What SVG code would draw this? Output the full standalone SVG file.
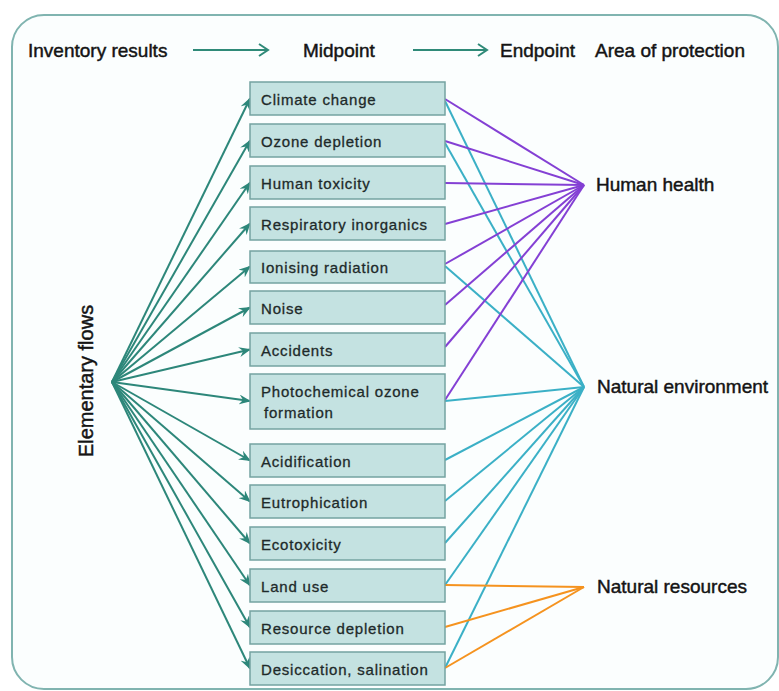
<svg xmlns="http://www.w3.org/2000/svg" width="779" height="691" viewBox="0 0 779 691">
<defs>
<style>
.hdr{font-family:"Liberation Sans",Arial,sans-serif;font-size:19px;fill:#141414;stroke:#141414;stroke-width:0.45px}
.lbl{font-family:"Liberation Sans",Arial,sans-serif;font-size:15px;letter-spacing:0.8px;fill:#1e2a2a;stroke:#1e2a2a;stroke-width:0.3px}
.box{fill:#c4e2e1;stroke:#74a3a1;stroke-width:1.5}
.fan{stroke:#2d877a;stroke-width:2;fill:none;marker-end:url(#ah)}
.pur{stroke:#8440d4;stroke-width:2;fill:none}
.cyn{stroke:#3bb0c6;stroke-width:2;fill:none}
.org{stroke:#f5931f;stroke-width:2;fill:none}
.harr{stroke:#2f8a78;stroke-width:2;fill:none}
</style>
<marker id="ah" viewBox="0 0 12 10" refX="11" refY="5" markerWidth="12" markerHeight="10" markerUnits="userSpaceOnUse" orient="auto">
<path d="M0,0 L12,5 L0,10 L4,5 z" fill="#2d877a"/>
</marker>
</defs>
<rect x="0" y="0" width="779" height="691" fill="#ffffff"/>
<rect id="frame" x="12" y="15" width="766" height="674" rx="32" ry="32" fill="#fbfefe" stroke="#80b4b0" stroke-width="2"/>

<g id="header">
<text class="hdr" x="28" y="57">Inventory results</text>
<text class="hdr" x="303" y="57">Midpoint</text>
<text class="hdr" x="500" y="57">Endpoint</text>
<text class="hdr" x="595" y="57">Area of protection</text>
<path class="harr" d="M193,50 H268 M259,44 L268,50 L259,56"/>
<path class="harr" d="M413,50 H487 M478,44 L487,50 L478,56"/>
</g>

<g id="elementary-flows">
<text class="hdr" transform="translate(93,381) rotate(-90)" text-anchor="middle" style="font-size:20px">Elementary flows</text>
</g>

<g id="connectors">
<g id="fan">
<line class="fan" x1="112" y1="382" x2="250" y2="98.5"/>
<line class="fan" x1="112" y1="382" x2="250" y2="140.5"/>
<line class="fan" x1="112" y1="382" x2="250" y2="182.5"/>
<line class="fan" x1="112" y1="382" x2="250" y2="223.5"/>
<line class="fan" x1="112" y1="382" x2="250" y2="266.5"/>
<line class="fan" x1="112" y1="382" x2="250" y2="307.5"/>
<line class="fan" x1="112" y1="382" x2="250" y2="349.5"/>
<line class="fan" x1="112" y1="382" x2="250" y2="401"/>
<line class="fan" x1="112" y1="382" x2="250" y2="460.5"/>
<line class="fan" x1="112" y1="382" x2="250" y2="501.5"/>
<line class="fan" x1="112" y1="382" x2="250" y2="543.5"/>
<line class="fan" x1="112" y1="382" x2="250" y2="585.5"/>
<line class="fan" x1="112" y1="382" x2="250" y2="627.5"/>
<line class="fan" x1="112" y1="382" x2="250" y2="668.5"/>
</g>
<g id="to-natural-environment">
<line class="cyn" x1="445" y1="101" x2="584" y2="387"/>
<line class="cyn" x1="445" y1="143" x2="584" y2="387"/>
<line class="cyn" x1="445" y1="266" x2="584" y2="387"/>
<line class="cyn" x1="445" y1="401" x2="584" y2="387"/>
<line class="cyn" x1="445" y1="460" x2="584" y2="387"/>
<line class="cyn" x1="445" y1="501" x2="584" y2="387"/>
<line class="cyn" x1="445" y1="543" x2="584" y2="387"/>
<line class="cyn" x1="445" y1="585" x2="584" y2="387"/>
<line class="cyn" x1="445" y1="668" x2="584" y2="387"/>
</g>
<g id="to-human-health">
<line class="pur" x1="445" y1="99" x2="584" y2="185"/>
<line class="pur" x1="445" y1="141" x2="584" y2="185"/>
<line class="pur" x1="445" y1="183" x2="584" y2="185"/>
<line class="pur" x1="445" y1="224" x2="584" y2="185"/>
<line class="pur" x1="445" y1="264" x2="584" y2="185"/>
<line class="pur" x1="445" y1="305" x2="584" y2="185"/>
<line class="pur" x1="445" y1="347" x2="584" y2="185"/>
<line class="pur" x1="445" y1="400" x2="584" y2="185"/>
</g>
<g id="to-natural-resources">
<line class="org" x1="445" y1="585" x2="584" y2="587"/>
<line class="org" x1="445" y1="627" x2="584" y2="587"/>
<line class="org" x1="445" y1="668" x2="584" y2="587"/>
</g>
</g>

<g id="climate-change"><rect class="box" x="250" y="82" width="195" height="33"/><text class="lbl" x="261" y="105">Climate change</text></g>
<g id="ozone-depletion"><rect class="box" x="250" y="124" width="195" height="33"/><text class="lbl" x="261" y="147">Ozone depletion</text></g>
<g id="human-toxicity"><rect class="box" x="250" y="166" width="195" height="33"/><text class="lbl" x="261" y="189">Human toxicity</text></g>
<g id="respiratory-inorganics"><rect class="box" x="250" y="207" width="195" height="33"/><text class="lbl" x="261" y="230">Respiratory inorganics</text></g>
<g id="ionising-radiation"><rect class="box" x="250" y="251" width="195" height="32"/><text class="lbl" x="261" y="273">Ionising radiation</text></g>
<g id="noise"><rect class="box" x="250" y="291" width="195" height="33"/><text class="lbl" x="261" y="314">Noise</text></g>
<g id="accidents"><rect class="box" x="250" y="333" width="195" height="33"/><text class="lbl" x="261" y="356">Accidents</text></g>
<g id="photochemical-ozone-formation"><rect class="box" x="250" y="374" width="195" height="55"/><text class="lbl" x="261" y="397">Photochemical ozone</text><text class="lbl" x="264" y="418">formation</text></g>
<g id="acidification"><rect class="box" x="250" y="444" width="195" height="33"/><text class="lbl" x="261" y="467">Acidification</text></g>
<g id="eutrophication"><rect class="box" x="250" y="485" width="195" height="33"/><text class="lbl" x="261" y="508">Eutrophication</text></g>
<g id="ecotoxicity"><rect class="box" x="250" y="527" width="195" height="33"/><text class="lbl" x="261" y="550">Ecotoxicity</text></g>
<g id="land-use"><rect class="box" x="250" y="569" width="195" height="33"/><text class="lbl" x="261" y="592">Land use</text></g>
<g id="resource-depletion"><rect class="box" x="250" y="611" width="195" height="33"/><text class="lbl" x="261" y="634">Resource depletion</text></g>
<g id="desiccation-salination"><rect class="box" x="250" y="652" width="195" height="33"/><text class="lbl" x="261" y="675">Desiccation, salination</text></g>

<g id="human-health"><text class="hdr" x="596" y="191">Human health</text></g>
<g id="natural-environment"><text class="hdr" x="597" y="393">Natural environment</text></g>
<g id="natural-resources"><text class="hdr" x="597" y="593">Natural resources</text></g>
</svg>
